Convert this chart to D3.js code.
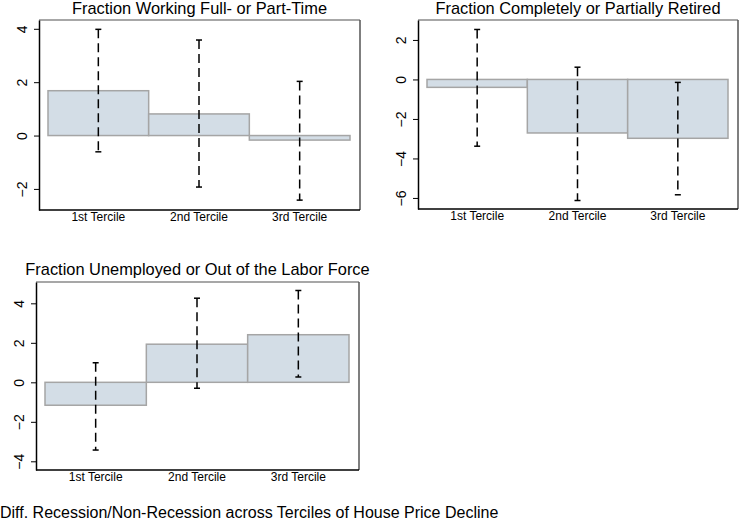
<!DOCTYPE html>
<html>
<head>
<meta charset="utf-8">
<script src="https://cdn.jsdelivr.net/npm/d3@7"></script>
<style>
  html, body { margin: 0; padding: 0; background: #fff; }
  svg { display: block; font-family: "Liberation Sans", Arial, sans-serif; }
</style>
</head>
<body>
<svg id="chart" width="739" height="520"></svg>
<script>
const categories = ["1st Tercile", "2nd Tercile", "3rd Tercile"];

const workingValues = [1.68, 0.81, -0.17];
const workingLow    = [-0.61, -1.93, -2.42];
const workingHigh   = [3.98, 3.58, 2.03];

const retiredValues = [-0.40, -2.71, -2.98];
const retiredLow    = [-3.38, -6.13, -5.84];
const retiredHigh   = [2.53, 0.62, -0.15];

const unemployedValues = [-1.16, 1.93, 2.41];
const unemployedLow    = [-3.43, -0.30, 0.27];
const unemployedHigh   = [0.99, 4.26, 4.65];

const workingTicks = [-2, 0, 2, 4];
const retiredTicks = [-6, -4, -2, 0, 2];
const unemployedTicks = [-4, -2, 0, 2, 4];

const panelTitles = [
  "Fraction Working Full- or Part-Time",
  "Fraction Completely or Partially Retired",
  "Fraction Unemployed or Out of the Labor Force"
];
const footnote = "Diff. Recession/Non-Recession across Terciles of House Price Decline";

const svg = d3.select("#chart");

const panels = [
  { title: panelTitles[0], values: workingValues, low: workingLow, high: workingHigh, ticks: workingTicks,
    box: { x0: 39, x1: 360, y0: 20, y1: 210 }, domain: [-2.79, 4.33], titleY: 14 },
  { title: panelTitles[1], values: retiredValues, low: retiredLow, high: retiredHigh, ticks: retiredTicks,
    box: { x0: 418, x1: 738, y0: 20, y1: 209 }, domain: [-6.56, 3.01], titleY: 14 },
  { title: panelTitles[2], values: unemployedValues, low: unemployedLow, high: unemployedHigh, ticks: unemployedTicks,
    box: { x0: 36, x1: 359, y0: 282, y1: 470 }, domain: [-4.44, 5.08], titleY: 275 }
];

panels.forEach(p => {
  const b = p.box;
  const g = svg.append("g");
  const x = d3.scaleBand().domain(categories).range([b.x0 + 9, b.x1 - 10]).padding(0);
  const y = d3.scaleLinear().domain(p.domain).range([b.y1, b.y0]);

  // title
  g.append("text")
    .attr("x", (b.x0 + b.x1) / 2).attr("y", p.titleY)
    .attr("text-anchor", "middle").attr("font-size", 16.4).attr("fill", "#000")
    .text(p.title);

  // bars
  g.selectAll("rect.bar").data(p.values).enter().append("rect")
    .attr("class", "bar")
    .attr("x", (d, i) => x(categories[i]))
    .attr("width", x.bandwidth())
    .attr("y", d => y(Math.max(0, d)))
    .attr("height", d => Math.abs(y(d) - y(0)))
    .attr("fill", "#d3dde6")
    .attr("stroke", "#a5a5a5")
    .attr("stroke-width", 1.5);

  // error bars
  const cx = i => x(categories[i]) + x.bandwidth() / 2;
  p.values.forEach((v, i) => {
    g.append("line")
      .attr("x1", cx(i)).attr("x2", cx(i))
      .attr("y1", y(p.high[i])).attr("y2", y(p.low[i]))
      .attr("stroke", "#000").attr("stroke-width", 1.5)
      .attr("stroke-dasharray", "9,5");
    [p.high[i], p.low[i]].forEach(e => {
      g.append("line")
        .attr("x1", cx(i) - 3).attr("x2", cx(i) + 3)
        .attr("y1", y(e)).attr("y2", y(e))
        .attr("stroke", "#000").attr("stroke-width", 1.5);
    });
  });

  // frame: top and right gray
  g.append("line").attr("x1", b.x0).attr("x2", b.x1).attr("y1", b.y0).attr("y2", b.y0)
    .attr("stroke", "#8a8a8a").attr("stroke-width", 1.5);
  g.append("line").attr("x1", b.x1).attr("x2", b.x1).attr("y1", b.y0).attr("y2", b.y1)
    .attr("stroke", "#555").attr("stroke-width", 1.5);

  // y axis
  const ya = g.append("g").attr("transform", `translate(${b.x0},0)`)
    .call(d3.axisLeft(y).tickValues(p.ticks).tickSize(5).tickSizeOuter(0));
  ya.select(".domain").attr("stroke", "#000").attr("stroke-width", 1.5);
  ya.selectAll(".tick line").attr("stroke", "#000").attr("stroke-width", 1);
  ya.selectAll(".tick text")
    .attr("x", 0).attr("y", 0).attr("dy", 0)
    .attr("text-anchor", "middle")
    .attr("transform", "translate(-12,0) rotate(-90)")
    .attr("font-size", 14)
    .attr("font-family", "Liberation Sans, Arial, sans-serif")
    .attr("fill", "#000");

  // x axis
  const xa = g.append("g").attr("transform", `translate(0,${b.y1})`)
    .call(d3.axisBottom(x).tickSize(0).tickSizeOuter(0).tickPadding(0));
  xa.select(".domain").attr("stroke", "#000").attr("stroke-width", 1.5)
    .attr("d", `M${b.x0},0H${b.x1}`);
  xa.selectAll(".tick text")
    .attr("y", 11).attr("dy", 0)
    .attr("font-size", 12)
    .attr("font-family", "Liberation Sans, Arial, sans-serif")
    .attr("fill", "#000");
});

svg.append("text")
  .attr("x", 0).attr("y", 518)
  .attr("font-size", 16).attr("fill", "#000")
  .text(footnote);
</script>
</body>
</html>
